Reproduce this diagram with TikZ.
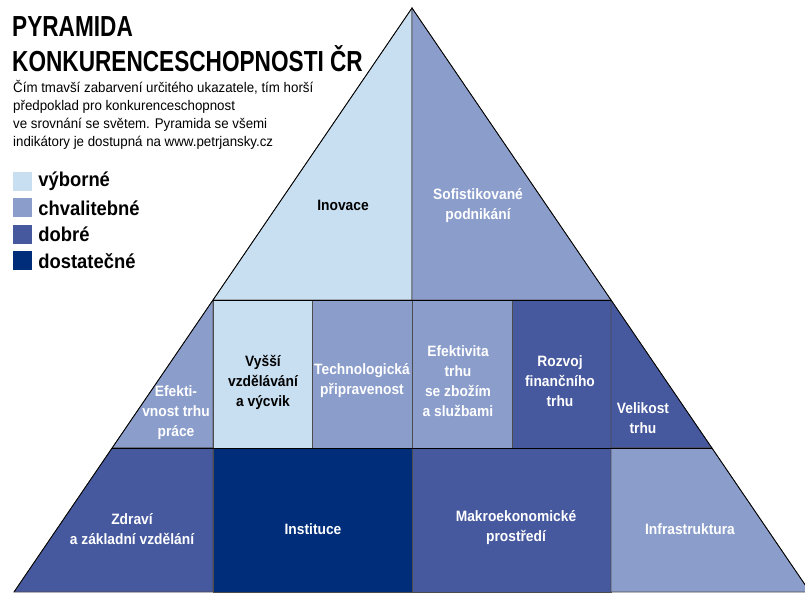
\documentclass[tikz,border=0pt]{standalone}
\usepackage{fontspec}
\setmainfont{Liberation Sans}[FakeStretch=0.92]
\newfontfamily\titlefont{Liberation Sans}[FakeStretch=0.78]
\newfontfamily\notefont{Liberation Sans}[FakeStretch=0.95]
\usetikzlibrary{
  positioning,  % legend placed with "right=of", "below=of"
}
\definecolor{vyborne}{RGB}{200,222,241}
\definecolor{chvalitebne}{RGB}{139,157,203}
\definecolor{dobre}{RGB}{70,88,158}
\definecolor{dostatecne}{RGB}{0,45,122}
\def\mylblsize{\fontsize{15}{20}\selectfont}
\tikzset{
  semithick,
  my cell/.style={
    draw=black!70,
    line width=0.7pt,
    line join=miter
  },
  grade1/.style={my cell,fill=vyborne},
  grade2/.style={my cell,fill=chvalitebne},
  grade3/.style={my cell,fill=dobre},
  grade4/.style={my cell,fill=dostatecne},
  my label/.style={
    font=\bfseries\mylblsize,
    align=center,
    inner sep=0pt,
    text=white
  },
  my dark label/.style={my label,text=black},
  my key/.style={
    minimum size=19pt,
    inner sep=0pt,
    draw=none
  },
  my key text/.style={
    font=\bfseries\fontsize{20}{22}\selectfont,
    inner sep=0pt,
    right=6pt of #1
  },
  pyramid/.style={
    x=1pt,
    y=-1pt,
    node distance=7pt
  }
}

\begin{document}
\begin{tikzpicture}[pyramid]
\useasboundingbox (0,0) rectangle (805,592);
\coordinate (A)  at (412,8);
\coordinate (L1) at (213,300);
\coordinate (R1) at (611,300);
\coordinate (L2) at (112,448);
\coordinate (R2) at (712,448);
\coordinate (L3) at (14,592);
\coordinate (R3) at (810,592);

% top tier
\draw[grade1] (A) -- (412,300) -- (L1) -- cycle;
\draw[grade2] (A) -- (R1) -- (412,300) -- cycle;
% middle tier
\draw[grade2] (L1) -- (213,448) -- (L2) -- cycle;
\draw[grade1] (213,300) rectangle (312,448);
\draw[grade2] (312,300) rectangle (412,448);
\draw[grade2] (412,300) rectangle (512,448);
\draw[grade3] (512,300) rectangle (611,448);
\draw[grade3] (R1) -- (R2) -- (611,448) -- cycle;
% bottom tier
\draw[grade3] (L2) -- (213,448) -- (213,592) -- (L3) -- cycle;
\draw[grade4] (213,448) rectangle (412,592);
\draw[grade3] (412,448) rectangle (611,592);
\draw[grade2] (611,448) -- (R2) -- (R3) -- (611,592) -- cycle;
\draw[black,line width=0.8pt] (L3) -- (A) -- (R3);
\draw[black,line width=0.8pt] (L1) -- (R1) (L2) -- (R2);

\node[my dark label] (inov)  at (343,205) {Inovace};
\node[my label]      (sofi)  at (478,206) {Sofistikované\\podnikání};
\node[my label]      (prace) at (176,413) {Efekti-\\vnost trhu\\práce};
\node[my dark label] (vyssi) at (263,382) {Vyšší\\vzdělávání\\a výcvik};
\node[my label]      (techn) at (362,381) {Technologická\\připravenost};
\node[my label]      (zbozi) at (458,381) {Efektivita\\trhu\\se zbožím\\a službami};
\node[my label]      (finan) at (560,381) {Rozvoj\\finančního\\trhu};
\node[my label]      (velik) at (643,418) {Velikost\\trhu};
\node[my label]      (zdrav) at (132,529) {Zdraví\\a základní vzdělání};
\node[my label]      (instit) at (313,529) {Instituce};
\node[my label]      (makro) at (516,528) {Makroekonomické\\prostředí};
\node[my label]      (infra) at (690,529) {Infrastruktura};

% title and legend (base = baseline of the last line)
\node[anchor=base west,inner sep=0pt,font=\titlefont\bfseries\fontsize{29}{35}\selectfont,align=left]
  (title) at (12,71) {PYRAMIDA\\KONKURENCESCHOPNOSTI ČR};
\node[anchor=base west,inner sep=0pt,font=\notefont\fontsize{14}{18}\selectfont,align=left]
  (note) at (13,146) {Čím tmavší zabarvení určitého ukazatele, tím horší\\
  předpoklad pro konkurenceschopnost\\
  ve srovnání se světem. Pyramida se všemi\\
  indikátory je dostupná na www.petrjansky.cz};

\node[my key,fill=vyborne]     (k1) at (22.5,181.5) {};
\node[my key,fill=chvalitebne] (k2) [below=of k1] {};
\node[my key,fill=dobre]       (k3) [below=of k2] {};
\node[my key,fill=dostatecne]  (k4) [below=of k3] {};
\node[my key text=k1] (t1) {výborné};
\node[my key text=k2] (t2) {chvalitebné};
\node[my key text=k3] (t3) {dobré};
\node[my key text=k4] (t4) {dostatečné};
\end{tikzpicture}
\end{document}
